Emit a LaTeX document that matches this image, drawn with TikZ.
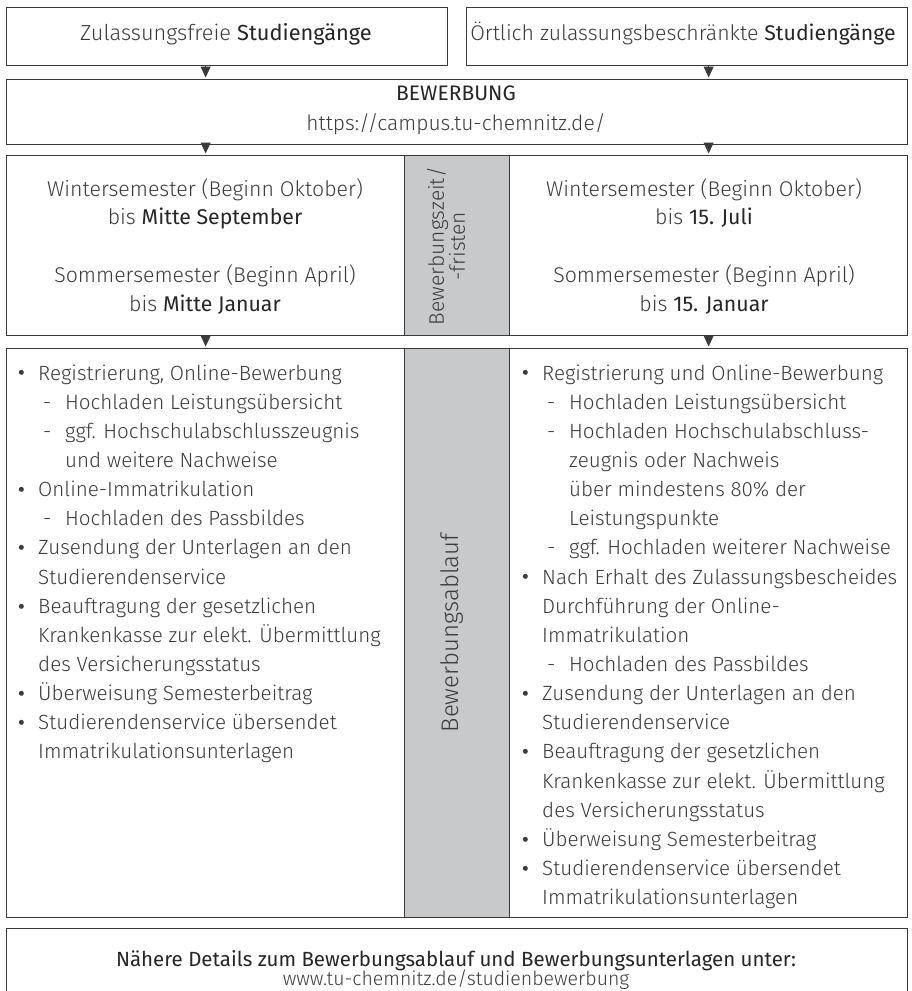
\documentclass[tikz,border=0pt]{standalone}
\usepackage{fontspec}
\newfontfamily\ltf{Fira Sans Light}
\newfontfamily\rgf{Fira Sans}
\newfontfamily\djv{DejaVu Sans}
\usetikzlibrary{arrows.meta}
\definecolor{bordc}{HTML}{3A3A3A}
\definecolor{graybox}{HTML}{C8C9CB}
\definecolor{txtl}{HTML}{3C3C3C}
\definecolor{txtr}{HTML}{262626}
\newcommand\fsz[1]{\fontsize{#1}{#1}\selectfont}
\newcommand\bul{\makebox[20pt][l]{\hspace*{0.5pt}\raisebox{5.2pt}{\djv\fontsize{6.5}{6.5}\selectfont ●}}}
\newcommand\dsh{\makebox[22pt][l]{-}}
\newcommand\hl[1]{{\rgf\color{txtr}#1}}
\begin{document}
\begin{tikzpicture}[x=1pt,y=-1pt,
  box/.style={draw=bordc, line width=1.3pt, fill=white, inner sep=0pt, anchor=north west},
  gbox/.style={box, fill=graybox},
  tx/.style={inner sep=0pt, text=txtl, font=\ltf\fsz{21.3}, anchor=base},
  li/.style={inner sep=0pt, anchor=base west, text=txtl, font=\ltf\fsz{20.6}},
  arr/.style={draw=bordc, line width=1pt, -{Triangle[width=10pt,length=11pt]}, shorten >=1.5pt}]
\useasboundingbox (0,0) rectangle (912,991);
% boxes
\node[box, minimum width=441pt, minimum height=58pt] (zf) at (6,7) {};
\node[box, minimum width=441pt, minimum height=58pt] (ob) at (466,7) {};
\node[box, minimum width=901pt, minimum height=65pt] (bew) at (6,79) {};
\node[box, minimum width=398pt, minimum height=180pt] (fl) at (6,155) {};
\node[box, minimum width=398pt, minimum height=180pt] (fr) at (509,155) {};
\node[gbox, minimum width=105pt, minimum height=180pt] (fg) at (404,155) {};
\node[box, minimum width=398pt, minimum height=569pt] (al) at (6,348) {};
\node[box, minimum width=398pt, minimum height=569pt] (ar) at (509,348) {};
\node[gbox, minimum width=105pt, minimum height=569pt] (ag) at (404,348) {};
\node[box, minimum width=901pt, minimum height=75pt] (foot) at (6,928) {};
% arrows
\draw[arr] (zf.south -| fl.north) -- (bew.north -| fl.north);
\draw[arr] (ob.south -| fr.north) -- (bew.north -| fr.north);
\draw[arr] (bew.south -| fl.north) -- (fl.north);
\draw[arr] (bew.south -| fr.north) -- (fr.north);
\draw[arr] (fl.south) -- (al.north);
\draw[arr] (fr.south) -- (ar.north);
% titles
\node[tx, font=\ltf\fsz{21.8}] (zft) at (226,40) {Zulassungsfreie \hl{Studiengänge}};
\node[tx, font=\ltf\fsz{21.25}] (obt) at (683,40) {Örtlich zulassungsbeschränkte \hl{Studiengänge}};
\node[tx, font=\rgf\fsz{21}, text=txtr] (bewt) at (456,100) {BEWERBUNG};
\node[tx, font=\ltf\fsz{21}] (bewu) at (456,130) {https://campus.tu-chemnitz.de/};
% fristen
\node[tx] (fl1) at (205,196) {Wintersemester (Beginn Oktober)};
\node[tx] (fl2) at (205,224) {bis \hl{Mitte September}};
\node[tx] (fl3) at (205,282) {Sommersemester (Beginn April)};
\node[tx] (fl4) at (205,311) {bis \hl{Mitte Januar}};
\node[tx] (fr1) at (704,196) {Wintersemester (Beginn Oktober)};
\node[tx] (fr2) at (704,224) {bis \hl{15. Juli}};
\node[tx] (fr3) at (704,282) {Sommersemester (Beginn April)};
\node[tx] (fr4) at (704,311) {bis \hl{15. Januar}};
\node[tx, anchor=center, rotate=90, align=center, font=\ltf\fontsize{21}{21}\selectfont] (fgl) at (446,246) {Bewerbungszeit/\\-fristen};
\node[tx, anchor=center, rotate=90, font=\ltf\fsz{24}] (agl) at (452,633) {Bewerbungsablauf};
% left list
\node[li] (L1) at (18,380.0) {\bul Registrierung, Online-Bewerbung};
\node[li] (L2) at (43,409.15) {\dsh Hochladen Leistungsübersicht};
\node[li] (L3) at (43,438.3) {\dsh ggf. Hochschulabschlusszeugnis};
\node[li] (L4) at (65,467.45) {und weitere Nachweise};
\node[li] (L5) at (18,496.6) {\bul Online-Immatrikulation};
\node[li] (L6) at (43,525.75) {\dsh Hochladen des Passbildes};
\node[li] (L7) at (18,554.9) {\bul Zusendung der Unterlagen an den};
\node[li] (L8) at (38,584.05) {Studierendenservice};
\node[li] (L9) at (18,613.2) {\bul Beauftragung der gesetzlichen};
\node[li] (L10) at (38,642.35) {Krankenkasse zur elekt. Übermittlung};
\node[li] (L11) at (38,671.5) {des Versicherungsstatus};
\node[li] (L12) at (18,700.65) {\bul Überweisung Semesterbeitrag};
\node[li] (L13) at (18,729.8) {\bul Studierendenservice übersendet};
\node[li] (L14) at (38,758.95) {Immatrikulationsunterlagen};
% right list
\node[li] (R1) at (522,380.0) {\bul Registrierung und Online-Bewerbung};
\node[li] (R2) at (547,409.15) {\dsh Hochladen Leistungsübersicht};
\node[li] (R3) at (547,438.3) {\dsh Hochladen Hochschulabschluss-};
\node[li] (R4) at (569,467.45) {zeugnis oder Nachweis};
\node[li] (R5) at (569,496.6) {über mindestens 80\% der};
\node[li] (R6) at (569,525.75) {Leistungspunkte};
\node[li] (R7) at (547,554.9) {\dsh ggf. Hochladen weiterer Nachweise};
\node[li] (R8) at (522,584.05) {\bul Nach Erhalt des Zulassungsbescheides};
\node[li] (R9) at (542,613.2) {Durchführung der Online-};
\node[li] (R10) at (542,642.35) {Immatrikulation};
\node[li] (R11) at (547,671.5) {\dsh Hochladen des Passbildes};
\node[li] (R12) at (522,700.65) {\bul Zusendung der Unterlagen an den};
\node[li] (R13) at (542,729.8) {Studierendenservice};
\node[li] (R14) at (522,758.95) {\bul Beauftragung der gesetzlichen};
\node[li] (R15) at (542,788.1) {Krankenkasse zur elekt. Übermittlung};
\node[li] (R16) at (542,817.25) {des Versicherungsstatus};
\node[li] (R17) at (522,846.4) {\bul Überweisung Semesterbeitrag};
\node[li] (R18) at (522,875.55) {\bul Studierendenservice übersendet};
\node[li] (R19) at (542,904.7) {Immatrikulationsunterlagen};
% footer
\node[tx, font=\rgf\fsz{20.5}, text=txtr] (ft1) at (456,966) {Nähere Details zum Bewerbungsablauf und Bewerbungsunterlagen unter:};
\node[tx, font=\ltf\fsz{19.5}] (ft2) at (456,985) {www.tu-chemnitz.de/studienbewerbung};
\end{tikzpicture}
\end{document}
